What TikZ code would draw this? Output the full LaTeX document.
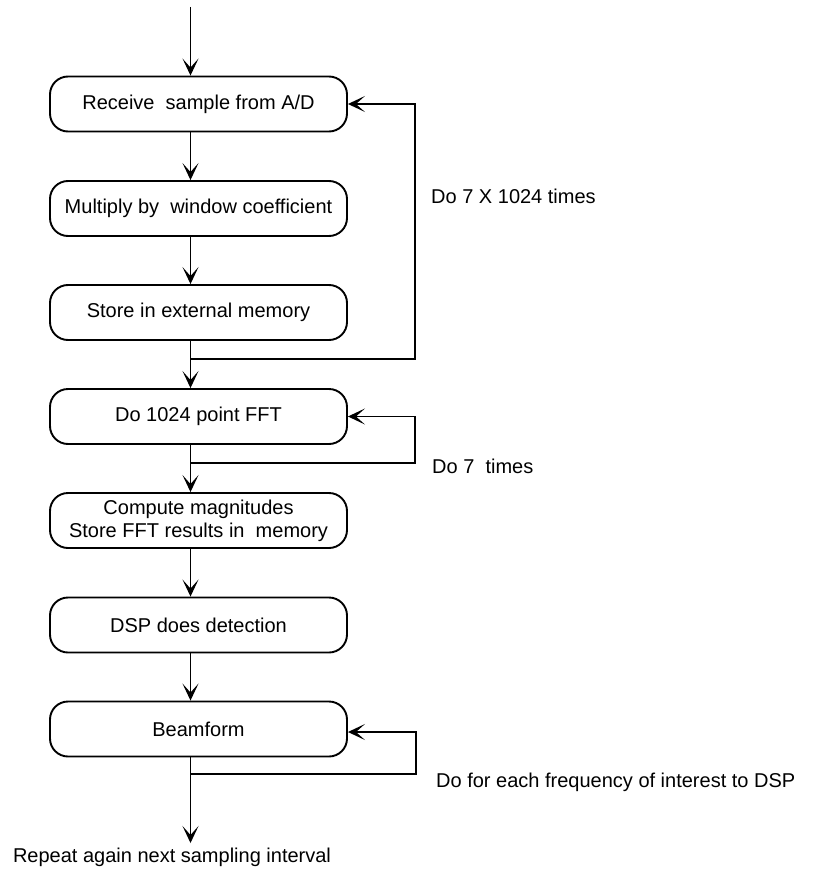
\documentclass[tikz,border=0pt]{standalone}
\usepackage{fontspec}
\setmainfont{Liberation Sans}
\usetikzlibrary{arrows.meta}
\begin{document}
\begin{tikzpicture}[x=1pt,y=-1pt,
  font=\fontsize{20}{23}\selectfont,
  stepbox/.style={draw, line width=1.9pt, rounded corners=18pt,
    minimum width=297pt, minimum height=55pt, inner sep=0pt, align=center},
  flow/.style={line width=1.9pt, -{Stealth[length=17pt,width=16pt,inset=9pt,line width=1.4pt]}},
  note/.style={anchor=west, inner sep=0pt}]
\useasboundingbox (0,0) rectangle (813,872);

% process steps
\node[stepbox] (recv)  at (198.5,104) {Receive\ \ sample from A/D};
\node[stepbox] (mult)  at (198.5,208.5) {Multiply by\ \ window coefficient};
\node[stepbox] (store) at (198.5,312.5) {Store in external memory};
\node[stepbox] (fft)   at (198.5,416.5) {Do 1024 point FFT};
\node[stepbox] (mag)   at (198.5,520.5) {Compute magnitudes\\Store FFT results in\ \ memory};
\node[stepbox] (det)   at (198.5,625) {DSP does detection};
\node[stepbox] (beam)  at (198.5,729) {Beamform};

% entry and exit points
\coordinate (start) at (190.5,7);
\coordinate (finish) at (190.5,843);
\node[inner sep=0pt] (repeat) at (172,857) {Repeat again next sampling interval};

% loop junctions on the main flow line
\coordinate (j1) at (190.5,359);
\coordinate (j2) at (190.5,463);
\coordinate (j3) at (190.5,774);

% main flow
\draw[flow] (start) -- (start |- recv.north);
\draw[flow] (recv.south -| start) -- (mult.north -| start);
\draw[flow] (mult.south -| start) -- (store.north -| start);
\draw[flow] (store.south -| start) -- (fft.north -| start);
\draw[flow] (fft.south -| start) -- (mag.north -| start);
\draw[flow] (mag.south -| start) -- (det.north -| start);
\draw[flow] (det.south -| start) -- (beam.north -| start);
\draw[flow] (beam.south -| start) -- (finish);

% repeat loops
\draw[flow] (j1) -- (415,359) -- (415,104) -- (recv.east);
\draw[flow] (j2) -- (415,463) -- (415,416.5) -- (fft.east);
\draw[flow] (j3) -- (416,774) -- (416,732) -- (beam.east |- 0,732);

% loop annotations
\node[note] (n1) at (431,196) {Do 7 X 1024 times};
\node[note] (n2) at (432,466) {Do 7\ \ times};
\node[note] (n3) at (436,782) {Do for each frequency of interest to DSP};
\end{tikzpicture}
\end{document}
